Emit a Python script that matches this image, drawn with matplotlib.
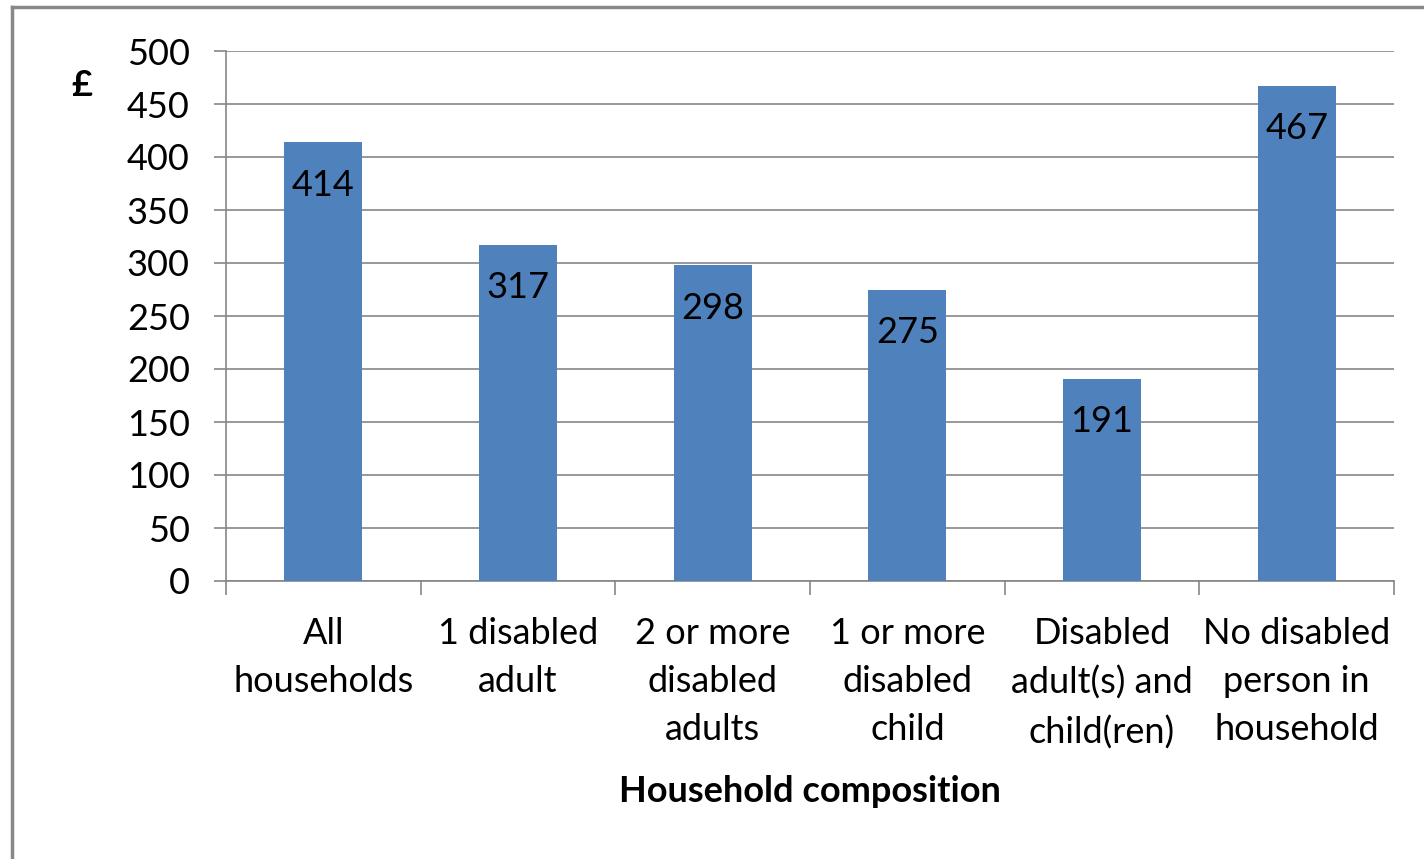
import matplotlib
matplotlib.use("Agg")
import matplotlib.pyplot as plt
from matplotlib.lines import Line2D
import numpy as np

categories = [
    "All\nhouseholds",
    "1 disabled\nadult",
    "2 or more\ndisabled\nadults",
    "1 or more\ndisabled\nchild",
    "Disabled\nadult(s) and\nchild(ren)",
    "No disabled\nperson in\nhousehold",
]
values = [414, 317, 298, 275, 191, 467]
yticks = [0, 50, 100, 150, 200, 250, 300, 350, 400, 450, 500]

plt.rcParams["font.family"] = ["Lato", "DejaVu Sans"]
bar_color = "#4F81BD"
grid_color = "#868686"
fs = 26

fig = plt.figure(figsize=(14.24, 8.59), dpi=100)
ax = fig.add_axes([226 / 1424, 1 - 581 / 859, (1394 - 226) / 1424, (581 - 51) / 859])

x = np.arange(len(values))
ax.bar(x, values, width=0.4, color=bar_color, zorder=3)
for xi, v in zip(x, values):
    ax.text(xi, v - 43 * 500 / 530, str(v), ha="center", va="center", fontsize=fs, color="black", zorder=4)

ax.set_xlim(-0.5, len(values) - 0.5)
ax.set_ylim(0, 500)
ax.set_yticks(yticks)
ax.set_yticklabels([str(t) for t in yticks], fontsize=fs)
ax.yaxis.grid(True, color=grid_color, linewidth=1.2, zorder=0)
ax.tick_params(axis="y", length=9, width=1.2, color=grid_color, pad=17)

ax.set_xticks(x)
ax.set_xticklabels(categories, fontsize=fs, linespacing=1.56)
ax.tick_params(axis="x", which="major", length=0, pad=26)
ax.set_xticks(np.arange(-0.5, len(values)), minor=True)
ax.tick_params(axis="x", which="minor", length=10, width=1.2, color=grid_color)

for s in ["top", "right"]:
    ax.spines[s].set_visible(False)
for s in ["left", "bottom"]:
    ax.spines[s].set_color(grid_color)
    ax.spines[s].set_linewidth(1.2)

ax.set_xlabel("Household composition", fontsize=fs, fontweight="bold", labelpad=18)
fig.text(82 / 1424, 1 - 85 / 859, "£", fontsize=fs, fontweight="bold", ha="center", va="center")

# outer border (left and top edges only visible)
fig.add_artist(Line2D([12 / 1424, 12 / 1424], [0, 1 - 7 / 859], transform=fig.transFigure, color="#888888", linewidth=2.5))
fig.add_artist(Line2D([12 / 1424, 1], [1 - 7 / 859, 1 - 7 / 859], transform=fig.transFigure, color="#888888", linewidth=2.5))

fig.savefig("out.png", dpi=100)
